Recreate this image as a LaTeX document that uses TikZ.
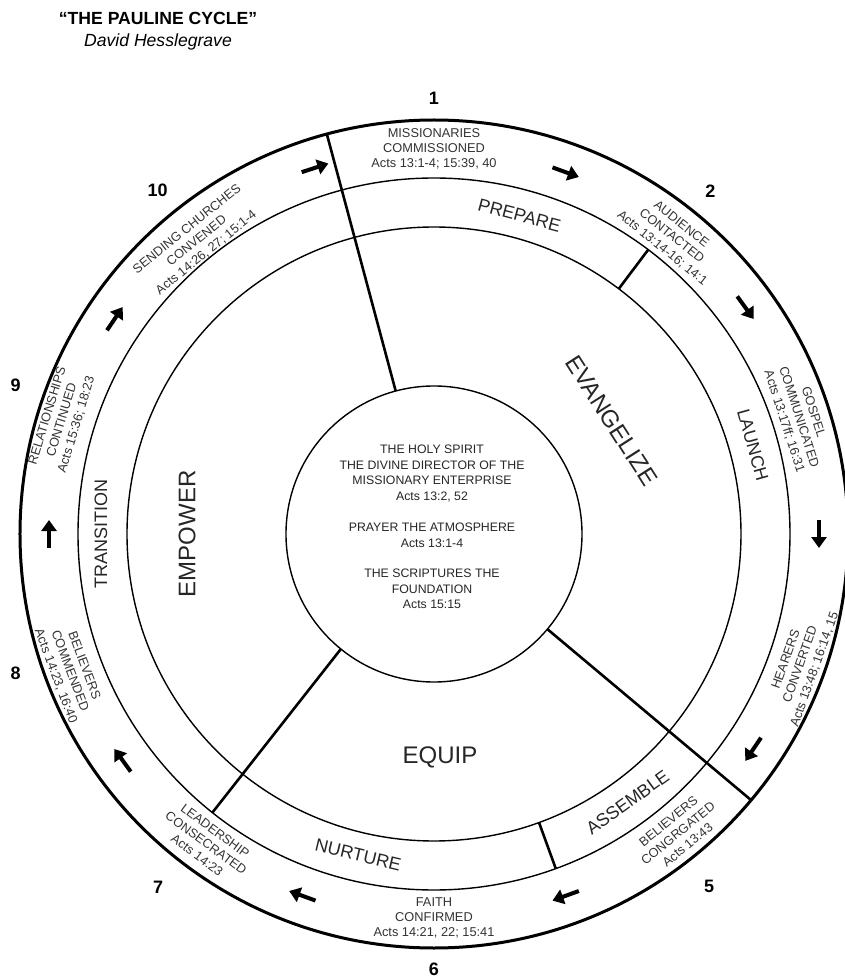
\documentclass[tikz,border=0pt]{standalone}
\usepackage{fontspec}
\setmainfont{Liberation Sans}
\usetikzlibrary{arrows.meta}
\begin{document}
\begin{tikzpicture}[x=1pt,y=1pt,
  rim/.style={line width=3pt},
  ring/.style={line width=1.4pt},
  divider/.style={line width=2.6pt},
  flow/.style={line width=4pt,-{Triangle[length=11pt,width=15pt]}},
  event/.style={align=center,font=\fontsize{12.8}{15.2}\selectfont,text=black!80,inner sep=0pt},
  phase/.style={font=\fontsize{18}{20}\selectfont,text=black!85,inner sep=0pt},
  stage/.style={font=\fontsize{24}{26}\selectfont,text=black!85,inner sep=0pt},
  stepno/.style={font=\bfseries\fontsize{18}{20}\selectfont,inner sep=0pt},
  hubtext/.style={align=center,font=\fontsize{12.3}{15.6}\selectfont,text=black!85,inner sep=0pt}]

% page frame
\useasboundingbox (-434,-446) rectangle (411,534);
\fill[white] (-434,-446) rectangle (411,534);
\clip (-434,-446) rectangle (411,534);

% heading
\node[font=\bfseries\fontsize{17.6}{20}\selectfont] (title) at (-276,516) {“THE PAULINE CYCLE”};
\node[font=\itshape\fontsize{17.6}{20}\selectfont] (author) at (-276,492) {David Hesslegrave};

% rings
\coordinate (O) at (0,0);
\draw[rim] (O) circle[radius=414];
\draw[ring] (O) circle[radius=356];
\draw[ring] (O) circle[radius=307];
\node[circle,draw,line width=1.4pt,minimum size=296pt,inner sep=0pt,outer sep=0pt] (hub) at (O) {};

% radial dividers
\coordinate (d1) at (105:414);
\coordinate (d3) at (-40:414);
\coordinate (d5) at (231.5:356);
\coordinate (d2a) at (53:307);  \coordinate (d2b) at (53:356);
\coordinate (d4a) at (-70:307); \coordinate (d4b) at (-70:356);
\draw[divider] (hub.105) -- (d1);
\draw[divider] (hub.-40) -- (d3);
\draw[divider] (hub.231.5) -- (d5);
\draw[divider] (d2a) -- (d2b);
\draw[divider] (d4a) -- (d4b);

% hub text
\node[hubtext] (core) at (-2,7) {THE HOLY SPIRIT\\THE DIVINE DIRECTOR OF THE\\MISSIONARY ENTERPRISE\\Acts 13:2, 52\\[15.5pt]PRAYER THE ATMOSPHERE\\Acts 13:1-4\\[15pt]THE SCRIPTURES THE\\FOUNDATION\\Acts 15:15};

% large stages
\node[stage,rotate=-57.4] (evangelize) at (32.6:211) {EVANGELIZE};
\node[stage,rotate=90] (empower) at (180:247) {EMPOWER};
\node[stage] (equip) at (6,-223) {EQUIP};

% phases
\node[phase,rotate=-15] (prepare) at (75:330) {PREPARE};
\node[phase,rotate=-74.4] (launch) at (15.6:331) {LAUNCH};
\node[phase,rotate=35.8] (assemble) at (-54.2:331) {ASSEMBLE};
\node[phase,rotate=-13.3] (nurture) at (256.7:330) {NURTURE};
\node[phase,rotate=90] (transition) at (180:333) {TRANSITION};

% events of the cycle
\node[event] (e1) at (90:385) {MISSIONARIES\\COMMISSIONED\\Acts 13:1-4; 15:39, 40};
\node[event,rotate=-38.6] (e2) at (51.4:381) {AUDIENCE\\CONTACTED\\Acts 13:14-16; 14:1};
\node[event,rotate=-72.2] (e3) at (17.8:383) {GOSPEL\\COMMUNICATED\\Acts 13:17ff; 16:31};
\node[event,rotate=70.4] (e4) at (-19.6:389) {HEARERS\\CONVERTED\\Acts 13:48; 16:14, 15};
\node[event,rotate=39.2] (e5) at (-50.8:386) {BELIEVERS\\CONGRGATED\\Acts 13:43};
\node[event] (e6) at (-90:384) {FAITH\\CONFIRMED\\Acts 14:21, 22; 15:41};
\node[event,rotate=-36.4] (e7) at (233.6:384) {LEADERSHIP\\CONSECRATED\\Acts 14:23};
\node[event,rotate=-69.4] (e8) at (200.6:389) {BELIEVERS\\COMMENDED\\Acts 14:23, 16:40};
\node[event,rotate=73] (e9) at (163:389) {RELATIONSHIPS\\CONTINUED\\Acts 15:36; 18:23};
\node[event,rotate=39] (e10) at (129:377) {SENDING CHURCHES\\CONVENED\\Acts 14:26, 27; 15:1-4};

% step numbers
\node[stepno] (n1) at (90:436) {1};
\node[stepno] (n2) at (51.1:440) {2};
\node[stepno] (n5) at (-52:447) {5};
\node[stepno] (n6) at (-90:435) {6};
\node[stepno] (n7) at (232:448) {7};
\node[stepno] (n8) at (198.4:441) {8};
\node[stepno] (n9) at (160.4:444) {9};
\node[stepno] (n10) at (128.8:441) {10};

% clockwise flow arrows
\foreach \a [count=\i] in {108,70,36,0,-34,-70,-110,-144,180,146} {
  \coordinate (f\i a) at ([shift={(\a:385)}]\a+90:14);
  \coordinate (f\i b) at ([shift={(\a:385)}]\a-90:14);
  \draw[flow] (f\i a) -- (f\i b);
}
\end{tikzpicture}
\end{document}
